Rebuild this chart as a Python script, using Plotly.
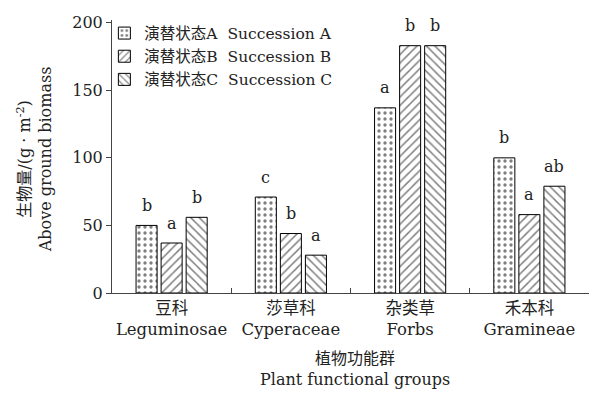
import plotly.graph_objects as go

categories = ["豆科<br>Leguminosae", "莎草科<br>Cyperaceae", "杂类草<br>Forbs", "禾本科<br>Gramineae"]
series_names = ["演替状态A  Succession A", "演替状态B  Succession B", "演替状态C  Succession C"]
values_A = [50, 71, 137, 100]
values_B = [37, 44, 183, 58]
values_C = [56, 28, 183, 79]
letters_A = ["b", "c", "a", "b"]
letters_B = ["a", "b", "b", "a"]
letters_C = ["b", "a", "b", "ab"]
y_ticks = [0, 50, 100, 150, 200]
x_title = "植物功能群<br>Plant functional groups"
y_title = "生物量/(g · m<sup>-2</sup>)<br>Above ground biomass"

FONT = "DejaVu Serif, Noto Sans CJK SC, serif"
TXT = "#222"
patterns = [".", "/", "\\"]
series = [values_A, values_B, values_C]
letters = [letters_A, letters_B, letters_C]

# page body has an 8px default margin, so the figure is sized to fit the window
W, H = 589, 408
margin = dict(l=104, r=8, t=12, b=123)
bargap = 0.37
bargroupgap = 0.16

fig = go.Figure()
for name, vals, pat in zip(series_names, series, patterns):
    fig.add_trace(go.Bar(
        x=categories, y=vals, name=name,
        marker=dict(color="white", line=dict(color="black", width=1),
                    pattern=dict(shape=pat, fgcolor="black", bgcolor="white",
                                 size=6, solidity=0.25)),
    ))

plot_w = W - margin["l"] - margin["r"]
plot_h = H - margin["t"] - margin["b"]
cat_w = plot_w / len(categories)
slot = cat_w * (1 - bargap) / 3
annotations = []
for i, (vals, labs) in enumerate(zip(series, letters)):
    for c, v, lab in zip(categories, vals, labs):
        annotations.append(dict(
            x=c, y=v, xref="x", yref="y", text=lab, showarrow=False,
            xshift=(i - 1) * slot, yshift=20,
            font=dict(family=FONT, size=16, color=TXT),
        ))
# axis titles
annotations.append(dict(
    text=x_title, xref="paper", yref="paper", x=0.51, y=-76 / plot_h,
    xanchor="center", yanchor="middle", showarrow=False,
    font=dict(family=FONT, size=16, color=TXT), align="center"))
annotations.append(dict(
    text=y_title, xref="paper", yref="paper", x=-77 / plot_w, y=0.49,
    xanchor="center", yanchor="middle", showarrow=False, textangle=-90,
    font=dict(family=FONT, size=16, color=TXT), align="center"))

fig.update_layout(
    width=W, height=H, margin=margin,
    plot_bgcolor="white", paper_bgcolor="white",
    barmode="group", bargap=bargap, bargroupgap=bargroupgap,
    font=dict(family=FONT, size=16, color=TXT),
    showlegend=True,
    legend=dict(x=-0.016, y=1 + 3.5 / plot_h, xanchor="left", yanchor="top",
                font=dict(family=FONT, size=15.5, color=TXT),
                bgcolor="rgba(0,0,0,0)", tracegroupgap=0, itemwidth=30),
    annotations=annotations,
    xaxis=dict(showline=True, linecolor="#444", linewidth=1, automargin=False,
               ticks="inside", tickson="boundaries", ticklen=5, tickcolor="#444",
               tickangle=0,
               tickfont=dict(family=FONT, size=16.5, color=TXT)),
    yaxis=dict(range=[0, 202], tickvals=y_ticks, showline=True, linecolor="#444",
               linewidth=1, ticks="outside", ticklen=5, tickcolor="#444",
               showgrid=False, zeroline=False, automargin=False,
               tickfont=dict(family=FONT, size=16, color=TXT)),
)

fig.write_html("out.html")
